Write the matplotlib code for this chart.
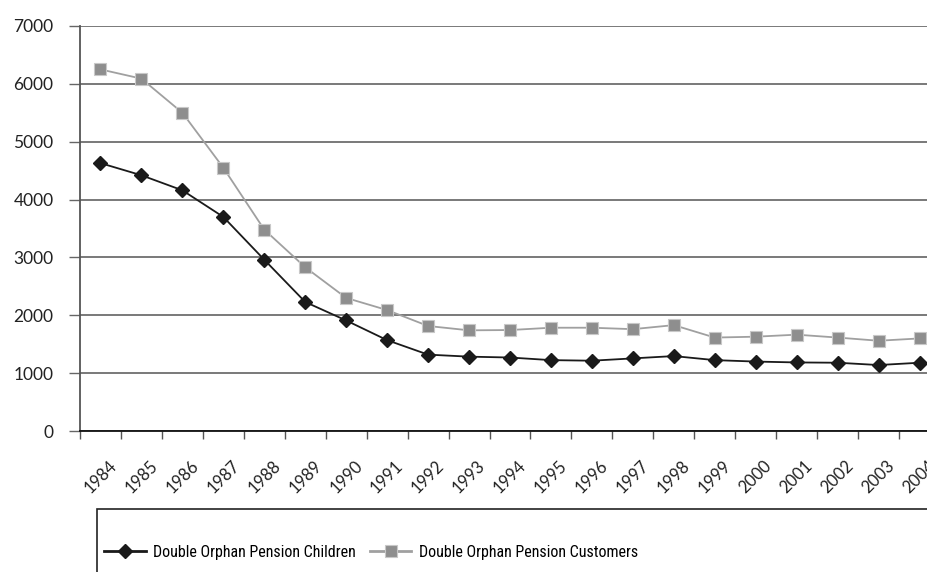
import matplotlib.pyplot as plt
from matplotlib.patches import Rectangle

years = [str(y) for y in range(1984, 2005)]
children = [4630, 4420, 4160, 3700, 2960, 2230, 1910, 1570, 1320, 1285, 1270,
            1225, 1215, 1255, 1295, 1225, 1200, 1185, 1180, 1140, 1180]
customers = [6250, 6090, 5500, 4550, 3480, 2830, 2300, 2090, 1815, 1740, 1745,
             1785, 1785, 1760, 1830, 1615, 1630, 1665, 1615, 1560, 1600]
yticks = [0, 1000, 2000, 3000, 4000, 5000, 6000, 7000]

plt.rcParams['font.family'] = ['Lato', 'DejaVu Sans']

fig = plt.figure(figsize=(9.27, 5.72), dpi=100)
ax = fig.add_axes([80 / 927, 1 - 431 / 572, 860 / 927, 405 / 572])

x = list(range(len(years)))
ax.plot(x, children, color='#1a1a1a', lw=1.3, marker='D', ms=7.2,
        mfc='#1a1a1a', mec='#1a1a1a', label='Double Orphan Pension Children', zorder=4)
ax.plot(x, customers, color='#a0a0a0', lw=1.3, marker='s', ms=9,
        mfc='#8e8e8e', mec='#c8c8c8', mew=0.8, label='Double Orphan Pension Customers', zorder=3)

ax.set_xlim(-0.5, len(years) - 0.5)
ax.set_ylim(0, 7000)
ax.set_yticks(yticks)
ax.set_yticklabels([str(v) for v in yticks], fontsize=12.5, color='#222222')
ax.yaxis.grid(True, color='#6e6e6e', lw=1.3)
ax.set_axisbelow(True)

# category boundaries as minor ticks
ax.set_xticks(x)
ax.set_xticklabels(years, rotation=45, fontsize=12, color='#222222', ha='center', va='top')
ax.set_xticks([i - 0.5 for i in range(len(years) + 1)], minor=True)
ax.tick_params(axis='x', which='major', length=0, pad=19)
ax.tick_params(axis='x', which='minor', length=6, width=1, color='#555555', direction='out')
ax.tick_params(axis='y', length=8, width=1, color='#666666', pad=11)

for s in ['top', 'right']:
    ax.spines[s].set_visible(False)
ax.spines['left'].set_color('#555555')
ax.spines['left'].set_linewidth(1.3)
ax.spines['bottom'].set_color('#111111')
ax.spines['bottom'].set_linewidth(1.3)

# legend without its own frame; the box runs off the bottom/right edge
leg = fig.legend(loc='center left', bbox_to_anchor=(104 / 927, 1 - 552 / 572), ncol=2,
                 frameon=False, borderaxespad=0, borderpad=0,
                 handlelength=2.6, columnspacing=0.9, handletextpad=0.45,
                 prop={'family': ['Roboto Condensed', 'Liberation Sans Narrow', 'DejaVu Sans'],
                       'size': 11.5})
for h in leg.get_lines():
    h.set_linewidth(2)
fig.patches.append(Rectangle((97 / 927, -0.05), 0.95, 0.05 + 63 / 572,
                             transform=fig.transFigure, fill=False,
                             edgecolor='#222222', lw=1.2))

fig.savefig('out.png', dpi=100)
